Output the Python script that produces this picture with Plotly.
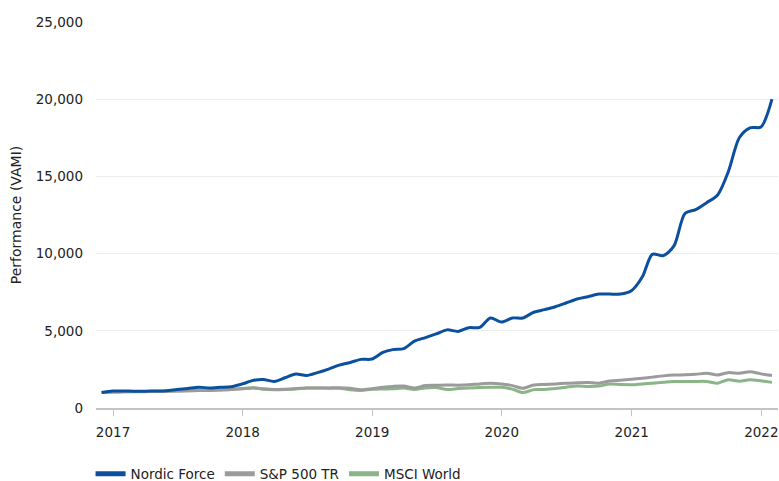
import calendar
import plotly.graph_objects as go

# Monthly observation dates (month ends), Nov 2016 .. Jan 2022
months = []
y, m = 2016, 11
while (y, m) <= (2022, 1):
    months.append(f"{y}-{m:02d}-{calendar.monthrange(y, m)[1]:02d}")
    m += 1
    if m > 12:
        m, y = 1, y + 1

nordic_force = [
    1000, 1100, 1100, 1090, 1090, 1100, 1120, 1200, 1270, 1340, 1300, 1340,
    1380, 1560, 1790, 1850, 1720, 1960, 2200, 2100, 2290, 2520, 2780, 2950,
    3150, 3170, 3600, 3780, 3850, 4330, 4560, 4800, 5060, 4960, 5200, 5220,
    5830, 5570, 5830, 5830, 6200, 6370, 6560, 6800, 7060, 7210, 7380, 7380,
    7380, 7600, 8500, 9950, 9870, 10500, 12600, 12850, 13300, 13800, 15300,
    17500, 18150, 18200, 20000,
]
sp500_tr = [
    1000, 1030, 1050, 1070, 1070, 1080, 1090, 1100, 1110, 1130, 1140, 1170,
    1200, 1250, 1300, 1240, 1200, 1220, 1260, 1300, 1300, 1300, 1310, 1280,
    1180, 1250, 1340, 1400, 1420, 1300, 1450, 1470, 1490, 1480, 1500, 1560,
    1600, 1560, 1450, 1280, 1490, 1530, 1560, 1600, 1640, 1650, 1610, 1750,
    1800, 1860, 1930, 2000, 2080, 2130, 2150, 2180, 2250, 2140, 2290, 2250,
    2350, 2210, 2100,
]
msci_world = [
    1000, 1030, 1050, 1060, 1060, 1070, 1080, 1100, 1120, 1150, 1160, 1170,
    1200, 1260, 1310, 1220, 1190, 1200, 1230, 1290, 1300, 1280, 1280, 1180,
    1140, 1210, 1230, 1240, 1290, 1200, 1300, 1320, 1200, 1260, 1300, 1330,
    1340, 1340, 1220, 1000, 1190, 1200, 1260, 1350, 1430, 1400, 1420, 1550,
    1520, 1510, 1560, 1610, 1670, 1720, 1720, 1720, 1720, 1610, 1830, 1730,
    1830, 1760, 1660,
]

series_names = ["Nordic Force", "S&P 500 TR", "MSCI World"]
series_colors = ["#0a509e", "#9b9b9b", "#8ab586"]
year_ticks = ["2017-01-01", "2018-01-01", "2019-01-01", "2020-01-01", "2021-01-01", "2022-01-01"]
year_labels = ["2017", "2018", "2019", "2020", "2021", "2022"]
y_ticks = [0, 5000, 10000, 15000, 20000, 25000]

fig = go.Figure()
# benchmark lines first so the fund line is drawn on top
for vals, name, col in [(msci_world, series_names[2], series_colors[2]),
                        (sp500_tr, series_names[1], series_colors[1]),
                        (nordic_force, series_names[0], series_colors[0])]:
    fig.add_trace(go.Scatter(x=months, y=vals, mode="lines", name=name,
                             line=dict(color=col, width=3, shape="spline", smoothing=0.8),
                             showlegend=False))
# legend entries (thicker swatches)
for name, col in zip(series_names, series_colors):
    fig.add_trace(go.Scatter(x=[None], y=[None], mode="lines", name=name,
                             line=dict(color=col, width=5)))

fig.update_layout(
    width=779, height=481,
    margin=dict(l=96, r=1, t=22, b=73, autoexpand=False),
    paper_bgcolor="white", plot_bgcolor="white",
    font=dict(family="DejaVu Sans", size=13.5, color="#222"),
    showlegend=True,
    legend=dict(orientation="h", x=-0.008, xanchor="left", y=-0.171, yanchor="middle",
                font=dict(size=13.5), itemwidth=30, tracegroupgap=0,
                bgcolor="rgba(0,0,0,0)"),
)
fig.update_xaxes(
    range=["2016-11-14", "2022-02-17"],
    tickvals=year_ticks, ticktext=year_labels,
    showgrid=False, zeroline=False, automargin=False,
    showline=True, linecolor="#c3c3c3", linewidth=2,
    ticks="outside", ticklen=6, tickcolor="#c3c3c3", tickwidth=1,
    ticklabelstandoff=5,
)
fig.update_yaxes(
    range=[0, 25000], tickvals=y_ticks, tickformat=",",
    showgrid=True, gridcolor="#ececec", gridwidth=1, automargin=False,
    zeroline=False, showline=False, ticks="",
    ticklabelstandoff=12,
    title=dict(text="Performance (VAMI)", standoff=10, font=dict(size=14)),
)

fig.write_html("out.html", config={"displayModeBar": False},
               post_script="document.body.style.margin='0';")
